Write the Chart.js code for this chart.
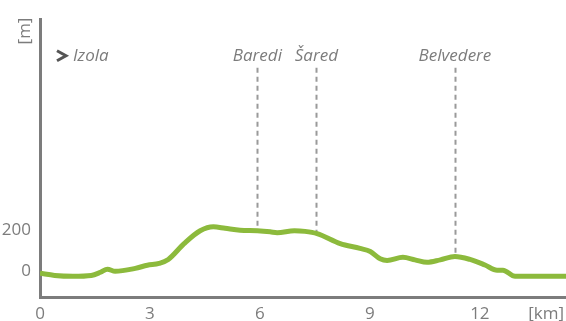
<!DOCTYPE html>
<html>
<head>
<meta charset="utf-8">
<script src="https://cdn.jsdelivr.net/npm/chart.js"></script>
<style>
  html, body { margin: 0; padding: 0; background: #fff; }
  #wrap { width: 566px; height: 321px; }
</style>
</head>
<body>
<div id="wrap"><canvas id="profile"></canvas></div>
<script>
// elevation profile
const distKm = [0, 0.4, 0.9, 1.4, 1.65, 1.84, 2.05, 2.6, 2.93, 3.25, 3.5, 3.93, 4.37, 4.73, 5.05, 5.46, 5.93, 6.28, 6.47, 6.94, 7.23, 7.56, 8.19, 8.73, 9.01, 9.28, 9.47, 9.9, 10.23, 10.56, 10.92, 11.32, 11.73, 12.14, 12.47, 12.63, 12.96, 14.35];
const heightM = [-10, -20, -24, -20, -5, 10, 0, 14, 29, 38, 57, 133, 195, 214, 207, 198, 195, 190, 186, 195, 192, 181, 133, 110, 95, 60, 52, 67, 55, 43, 55, 71, 57, 30, 5, 5, -24, -24];

const xTicks = [0, 3, 6, 9, 12];
const yTicks = [0, 200];

const placeNames = ['Baredi', 'Šared', 'Belvedere'];
const placeKm = [5.93, 7.54, 11.32];
const startName = 'Izola';

const gray = '#7c7c7c';
const tickFont = { family: 'Open Sans', size: 17 };

function heightAt(km) {
  for (let i = 1; i < distKm.length; i++) {
    if (km <= distKm[i]) {
      const t = (km - distKm[i - 1]) / (distKm[i] - distKm[i - 1]);
      return heightM[i - 1] + t * (heightM[i] - heightM[i - 1]);
    }
  }
  return heightM[heightM.length - 1];
}

const extras = {
  id: 'extras',
  beforeDatasetsDraw(chart) {
    const { ctx, scales: { x, y } } = chart;
    ctx.save();
    // dashed markers
    ctx.strokeStyle = '#9a9a9a';
    ctx.lineWidth = 2;
    ctx.setLineDash([5, 4]);
    const top = y.getPixelForValue(980);
    placeKm.forEach((km) => {
      const px = Math.round(x.getPixelForValue(km)) + 0.5;
      ctx.beginPath();
      ctx.moveTo(px, top);
      ctx.lineTo(px, y.getPixelForValue(heightAt(km)));
      ctx.stroke();
    });
    ctx.setLineDash([]);
    const ly = top - 12;
    ctx.fillStyle = gray;
    ctx.font = 'italic 17px "Open Sans"';
    ctx.textAlign = 'center';
    ctx.textBaseline = 'middle';
    placeNames.forEach((name, i) => {
      ctx.fillText(name, x.getPixelForValue(placeKm[i]), ly);
    });
    // start arrow + name
    const sx = chart.chartArea.left + 17;
    ctx.strokeStyle = '#555';
    ctx.lineWidth = 3;
    ctx.beginPath();
    ctx.moveTo(sx, ly - 5);
    ctx.lineTo(sx + 9, ly);
    ctx.lineTo(sx, ly + 5);
    ctx.stroke();
    ctx.textAlign = 'left';
    ctx.fillText(startName, sx + 16, ly);
    // axis units
    ctx.font = '17px "Open Sans"';
    ctx.textAlign = 'right';
    ctx.fillText('[km]', chart.width - 2, x.bottom - 7);
    ctx.translate(25, 31);
    ctx.rotate(-Math.PI / 2);
    ctx.textAlign = 'center';
    ctx.fillText('[m]', 0, 0);
    ctx.restore();
  }
};

new Chart(document.getElementById('profile'), {
  type: 'line',
  data: {
    datasets: [{
      data: distKm.map((km, i) => ({ x: km, y: heightM[i] })),
      borderColor: '#8cba3c',
      borderWidth: 5,
      pointRadius: 0,
      cubicInterpolationMode: 'monotone',
      fill: false
    }]
  },
  options: {
    responsive: true,
    maintainAspectRatio: false,
    animation: false,
    layout: { padding: { top: 16, left: 0, right: 0, bottom: 0 } },
    plugins: { legend: { display: false }, tooltip: { enabled: false } },
    scales: {
      x: {
        type: 'linear',
        min: 0,
        max: 14.35,
        afterBuildTicks: (s) => { s.ticks = xTicks.map(v => ({ value: v })); },
        afterFit: (s) => { s.height = 24; },
        grid: { display: false, drawTicks: false },
        border: { display: true, color: gray, width: 3 },
        ticks: { color: gray, font: tickFont, padding: 7, maxRotation: 0 }
      },
      y: {
        min: -124,
        max: 1214,
        afterBuildTicks: (s) => { s.ticks = yTicks.map(v => ({ value: v })); },
        afterFit: (s) => { s.width = 40; },
        grid: { display: false, drawTicks: false },
        border: { display: true, color: gray, width: 3 },
        ticks: { color: gray, font: tickFont, padding: 9 }
      }
    }
  },
  plugins: [extras]
});
</script>
</body>
</html>
